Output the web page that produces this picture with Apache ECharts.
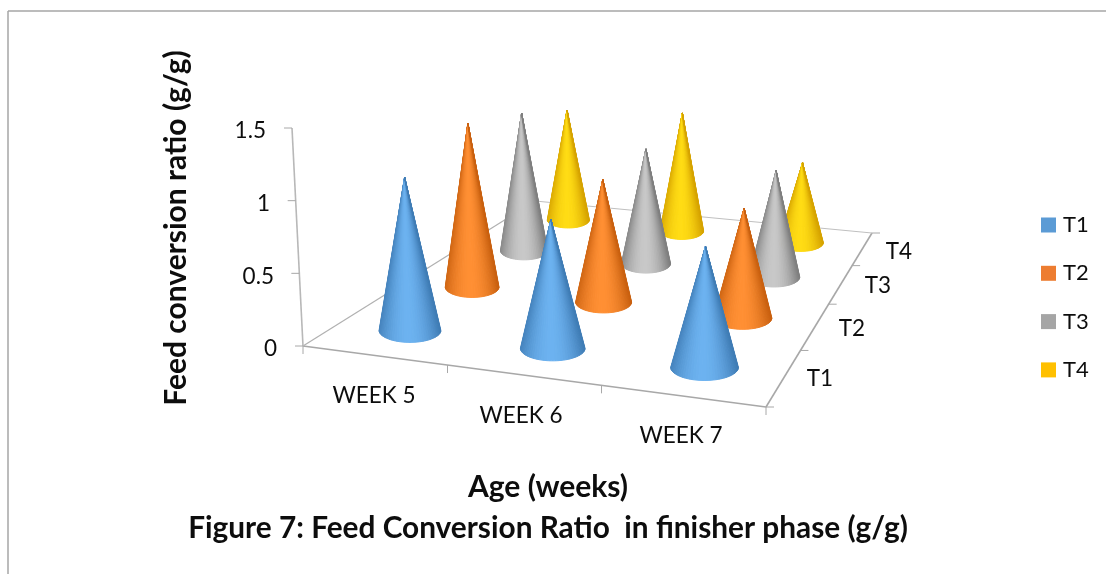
<!DOCTYPE html>
<html>
<head>
<meta charset="utf-8">
<style>html,body{margin:0;padding:0;background:#fff}#c{width:1106px;height:574px}</style>
<script src="https://cdn.jsdelivr.net/npm/echarts@6/dist/echarts.min.js"></script>
</head>
<body>
<div id="c"></div>
<script>
const weeks = ['WEEK 5', 'WEEK 6', 'WEEK 7'];
const treatments = ['T1', 'T2', 'T3', 'T4'];
const valueTicks = [0, 0.5, 1, 1.5];
const t1 = [1.09, 0.89, 0.81];
const t2 = [1.28, 0.93, 0.81];
const t3 = [1.17, 0.95, 0.86];
const t4 = [1.01, 1.06, 0.70];
const seriesValues = [t1, t2, t3, t4];
const colors = ['#5B9BD5', '#ED7D31', '#A5A5A5', '#FFC000'];
const edgeColors = [[63, 124, 181], [201, 96, 15], [127, 127, 127], [214, 163, 0]];
const highlightColors = [[108, 178, 240], [255, 143, 51], [200, 200, 200], [255, 220, 20]];

const FONT = 'Lato';
const TEXT = '#0d0d0d';
const LABEL_SIZE = 22.5;
const AXIS_LINE = '#b4b4b4';

// Floor of the 3D box: perspective map of the unit square to the picture.
const H = (function () {
  const A = [303, 346], B = [766, 407], C = [872, 233], D = [535, 201];
  const dx1 = B[0] - C[0], dx2 = D[0] - C[0], sx = A[0] - B[0] + C[0] - D[0];
  const dy1 = B[1] - C[1], dy2 = D[1] - C[1], sy = A[1] - B[1] + C[1] - D[1];
  const det = dx1 * dy2 - dx2 * dy1;
  const g = (sx * dy2 - dx2 * sy) / det;
  const h = (dx1 * sy - sx * dy1) / det;
  return {
    a: B[0] - A[0] + g * B[0], b: D[0] - A[0] + h * D[0], c: A[0],
    d: B[1] - A[1] + g * B[1], e: D[1] - A[1] + h * D[1], f: A[1], g: g, h: h
  };
})();
function weight(u, v) { return H.g * u + H.h * v + 1; }
function floorPt(u, v) {
  const w = weight(u, v);
  return [(H.a * u + H.b * v + H.c) / w, (H.d * u + H.e * v + H.f) / w];
}
function coneShade(seriesIdx, t) {
  // t: 0 = left silhouette, 1 = right silhouette
  const d = Math.abs(t - 0.52) / 0.52;
  const k = d * d;
  const e = edgeColors[seriesIdx], h = highlightColors[seriesIdx];
  return 'rgb(' + [0, 1, 2].map(function (i) { return Math.round(h[i] + (e[i] - h[i]) * k); }).join(',') + ')';
}

function renderCone(seriesIdx, params, api) {
  const week = api.value(0), val = api.value(1);
  const cs = params.coordSys;
  const u = (api.coord([week, 0])[0] - cs.x) / cs.width;
  const v = (seriesIdx + 0.5) / treatments.length;
  const w = weight(u, v);
  const base = floorPt(u, v);
  const height = (api.coord([week, 0])[1] - api.coord([week, val])[1]) / w;
  const rx = 32.5 / Math.pow(w, 1.5), ry = rx * 0.39;
  const apex = [base[0] + (base[0] - 650) * height * 1.45e-4, base[1] - height];
  const N = 36, children = [];
  for (let i = 0; i < N; i++) {
    const a0 = Math.PI - Math.PI * i / N, a1 = Math.PI - Math.PI * (i + 1) / N;
    const p0 = [base[0] + rx * Math.cos(a0), base[1] + ry * Math.sin(a0)];
    const p1 = [base[0] + rx * Math.cos(a1), base[1] + ry * Math.sin(a1)];
    const tx = (1 - (Math.cos(a0) + Math.cos(a1)) / 2) / 2;
    const fill = coneShade(seriesIdx, tx);
    children.push({
      type: 'polygon',
      shape: { points: [apex, p0, p1] },
      style: { fill: fill, stroke: fill, lineWidth: 1, lineJoin: 'round' }
    });
  }
  return { type: 'group', children: children };
}

function line(p, q, color, width) {
  return {
    type: 'line',
    shape: { x1: p[0], y1: p[1], x2: q[0], y2: q[1] },
    style: { stroke: color || AXIS_LINE, lineWidth: width || 1.2 }
  };
}
function label(text, x, y, align) {
  return {
    type: 'text', x: x, y: y,
    style: { text: text, fill: TEXT, font: LABEL_SIZE + 'px ' + FONT, align: align || 'center', verticalAlign: 'middle' }
  };
}
const weekLabelOffset = [[374, 396], [521, 416], [681, 436]];
const treatLabelPos = [[820, 379], [852, 329], [878, 286], [899, 252]];
const valueLabelRight = [277, 274, 270, 266];

function renderFrame(params, api) {
  const kids = [];
  // floor edges and value axis
  kids.push(line(floorPt(0, 0), floorPt(1, 0), '#a8a8a8', 1.6));
  kids.push(line(floorPt(1, 0), floorPt(1, 1), '#a8a8a8', 1.6));
  kids.push(line(floorPt(1, 1), floorPt(0, 1), '#c0c0c0', 1.2));
  kids.push(line(floorPt(0, 1), floorPt(0, 0), '#b0b0b0', 1.2));
  const zero = api.coord([0, 0])[1], top = api.coord([0, 1.5])[1];
  const tiltX = function (y) { return 303 - 11 * (zero - y) / (zero - top); };
  kids.push(line([tiltX(zero), zero], [tiltX(top), top], '#b8b8b8', 1.6));
  valueTicks.forEach(function (t, i) {
    const y = api.coord([0, t])[1];
    const x = tiltX(y);
    kids.push(line([x - 8, y], [x, y], '#a8a8a8', 1));
    kids.push(label(String(t), valueLabelRight[i], y + 3, 'right'));
  });
  for (let i = 0; i <= weeks.length; i++) {
    const p = floorPt(i / weeks.length, 0);
    kids.push(line(p, [p[0], p[1] + 8], '#a8a8a8', 1));
  }
  for (let i = 0; i <= treatments.length; i++) {
    const p = floorPt(1, i / treatments.length);
    kids.push(line(p, [p[0] + 8, p[1]], '#a8a8a8', 1));
  }
  weeks.forEach(function (n, i) { kids.push(label(n, weekLabelOffset[i][0], weekLabelOffset[i][1])); });
  treatments.forEach(function (n, i) { kids.push(label(n, treatLabelPos[i][0], treatLabelPos[i][1])); });
  return { type: 'group', children: kids };
}

const chart = echarts.init(document.getElementById('c'), null, { renderer: 'canvas' });
const coneSeries = treatments.map(function (name, i) {
  return {
    type: 'custom',
    name: name,
    z: 20 - i,
    coordinateSystem: 'cartesian2d',
    itemStyle: { color: colors[i] },
    encode: { x: 0, y: 1 },
    clip: false,
    silent: true,
    data: seriesValues[i].map(function (val, w) { return [w, val]; }),
    renderItem: function (params, api) { return renderCone(i, params, api); }
  };
});

chart.setOption({
  animation: false,
  backgroundColor: '#fff',
  textStyle: { fontFamily: FONT },
  title: [
    { text: 'Age (weeks)', left: 543, top: 467, textAlign: 'center',
      textStyle: { fontFamily: FONT, fontWeight: 'bold', fontSize: 30, color: TEXT } },
    { text: 'Figure 7: Feed Conversion Ratio  in finisher phase (g/g)', left: 543, top: 508, textAlign: 'center',
      textStyle: { fontFamily: FONT, fontWeight: 'bold', fontSize: 29.8, color: TEXT } }
  ],
  grid: { left: 303, top: 128, width: 463, height: 218, containLabel: false },
  xAxis: { type: 'category', data: weeks, show: false },
  yAxis: { type: 'value', min: 0, max: 1.5, interval: 0.5, show: false },
  legend: {
    orient: 'vertical', left: 1041, top: 214,
    data: treatments.map(function (n) { return { name: n, icon: 'rect' }; }),
    itemWidth: 15, itemHeight: 15, itemGap: 26.3, padding: 0,
    selectedMode: false,
    textStyle: { fontFamily: FONT, fontSize: 22, color: TEXT, padding: [0, 0, 0, 2] }
  },
  graphic: [
    { type: 'line', shape: { x1: 8, y1: 11, x2: 1106, y2: 11 }, style: { stroke: '#a6a6a6', lineWidth: 1.5 }, silent: true },
    { type: 'line', shape: { x1: 8, y1: 11, x2: 8, y2: 574 }, style: { stroke: '#a6a6a6', lineWidth: 1.5 }, silent: true },
    { type: 'text', x: 176, y: 228, rotation: Math.PI / 2, silent: true,
      style: { text: 'Feed conversion ratio (g/g)', font: 'bold 30px ' + FONT, fill: TEXT, align: 'center', verticalAlign: 'middle' } }
  ],
  series: [{
    type: 'custom', name: 'frame', z: 1, silent: true, clip: false,
    coordinateSystem: 'cartesian2d', encode: { x: 0, y: 1 },
    data: [[0, 0]], renderItem: renderFrame
  }].concat(coneSeries)
});
</script>
</body>
</html>
